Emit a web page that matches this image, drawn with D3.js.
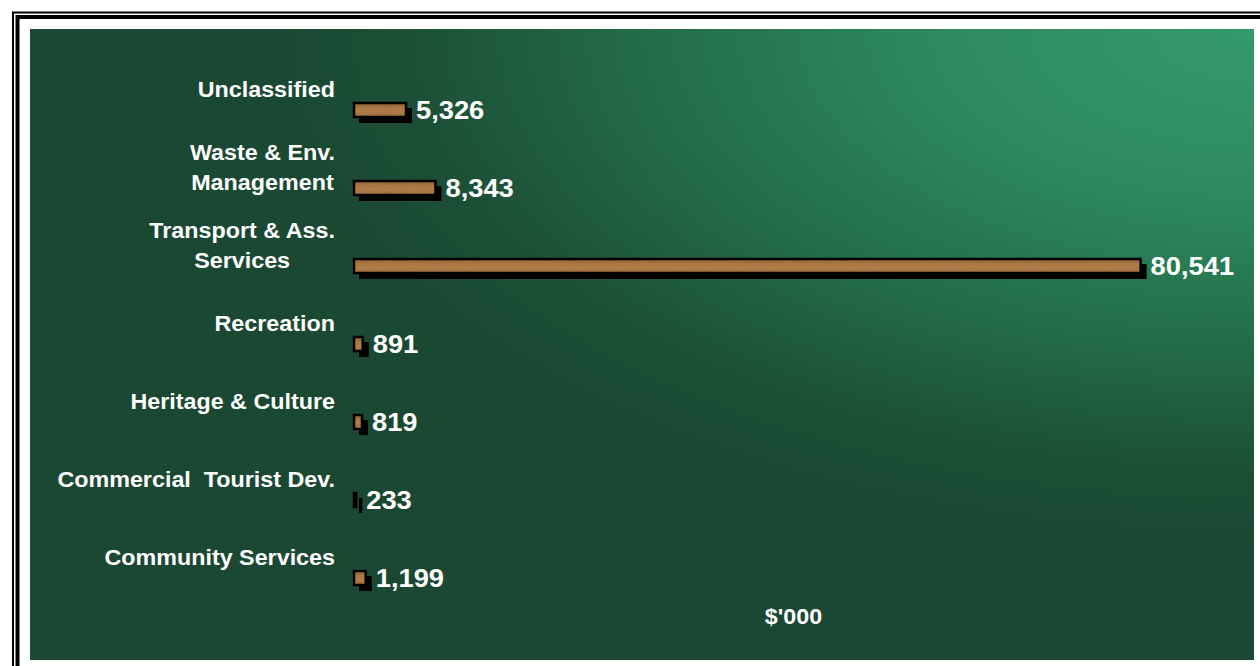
<!DOCTYPE html>
<html>
<head>
<meta charset="utf-8">
<script src="https://cdn.jsdelivr.net/npm/d3@7"></script>
<style>
  html, body { margin: 0; padding: 0; background: #ffffff; }
  svg { display: block; }
  text { font-family: "Liberation Sans", Arial, sans-serif; font-weight: bold; fill: #ffffff; }
</style>
</head>
<body>
<svg id="chart" width="1260" height="666"></svg>
<script>
// Capital spending by program, $'000
const categories = [
  ["Unclassified"],
  ["Waste & Env.", "Management"],
  ["Transport & Ass.", "Services"],
  ["Recreation"],
  ["Heritage & Culture"],
  ["Commercial  Tourist Dev."],
  ["Community Services"]
];
const values = [5326, 8343, 80541, 891, 819, 233, 1199];
const axisTitle = "$'000";

const svg = d3.select("#chart");
const defs = svg.append("defs");

// Green backdrop, brightest in the upper right corner
const bg = defs.append("radialGradient")
  .attr("id", "bgGrad")
  .attr("gradientUnits", "userSpaceOnUse")
  .attr("cx", 1254).attr("cy", 29).attr("r", 1000)
  .attr("gradientTransform", "translate(1254,29) scale(1,0.52) translate(-1254,-29)");
[[0, "#35996c"], [0.3, "#2e8b5f"], [0.6, "#236d4a"], [0.85, "#1c4f36"], [1, "#1a4832"]]
  .forEach(([o, c]) => bg.append("stop").attr("offset", o).attr("stop-color", c));

// Brown bar fill with a mottled grain
const barGrad = defs.append("linearGradient")
  .attr("id", "barGrad").attr("x1", 0).attr("y1", 0).attr("x2", 0).attr("y2", 1);
[[0, "#83522a"], [0.3, "#a86f3a"], [0.6, "#b27a43"], [1, "#9a6334"]]
  .forEach(([o, c]) => barGrad.append("stop").attr("offset", o).attr("stop-color", c));

const grain = defs.append("filter").attr("id", "grain")
  .attr("x", 0).attr("y", 0).attr("width", 1).attr("height", 1);
grain.append("feTurbulence").attr("type", "fractalNoise")
  .attr("baseFrequency", "0.12 0.5").attr("numOctaves", 2).attr("seed", 3).attr("result", "noise");
grain.append("feColorMatrix").attr("in", "noise").attr("type", "matrix")
  .attr("values", "0 0 0 0 0.40  0 0 0 0 0.24  0 0 0 0 0.10  0 0 0 0.5 0").attr("result", "tint");
grain.append("feComposite").attr("in", "tint").attr("in2", "SourceGraphic").attr("operator", "in").attr("result", "spots");
grain.append("feMerge").selectAll("feMergeNode").data(["SourceGraphic", "spots"]).enter()
  .append("feMergeNode").attr("in", d => d);

// Double frame, running past the right and bottom edges
svg.append("rect").attr("x", 13).attr("y", 12.5).attr("width", 1400).attr("height", 900)
  .attr("fill", "none").attr("stroke", "#000").attr("stroke-width", 2);
svg.append("rect").attr("x", 17.5).attr("y", 17).attr("width", 1400).attr("height", 900)
  .attr("fill", "none").attr("stroke", "#000").attr("stroke-width", 4);

// Plot area
svg.append("rect").attr("x", 30).attr("y", 29).attr("width", 1224).attr("height", 631)
  .attr("fill", "url(#bgGrad)");

const x = d3.scaleLinear().domain([0, 90000]).range([354, 1233]);
const y = d3.scaleBand().domain(d3.range(categories.length)).range([71, 617]);
const barH = 14;
const cy = i => y(i) + y.bandwidth() / 2;

// text drawn slightly widened, as the chart's type is set
function placeText(sel, px, py, sx) {
  sel.attr("transform", `translate(${px},${py}) scale(${sx},1)`);
}

const bars = svg.append("g").selectAll("g").data(values).enter().append("g");
const barW = d => Math.max(1, x(d) - x(0));

// drop shadow
bars.append("rect")
  .attr("x", x(0) + 5)
  .attr("y", (d, i) => cy(i) - barH / 2 + 5)
  .attr("width", d => barW(d) + 1)
  .attr("height", barH + 1)
  .attr("fill", "#000");

// bar body
bars.append("rect")
  .attr("x", x(0))
  .attr("y", (d, i) => cy(i) - barH / 2)
  .attr("width", barW)
  .attr("height", barH)
  .attr("fill", "url(#barGrad)")
  .attr("filter", "url(#grain)");

// bar outline
bars.append("rect")
  .attr("x", x(0))
  .attr("y", (d, i) => cy(i) - barH / 2)
  .attr("width", barW)
  .attr("height", barH)
  .attr("fill", "none")
  .attr("stroke", "#000")
  .attr("stroke-width", 2.5);

// value labels
bars.append("text")
  .attr("dy", "0.36em")
  .attr("font-size", 26)
  .text(d => d3.format(",")(d))
  .each(function (d, i) {
    placeText(d3.select(this), Math.max(x(d), x(0) + 2) + 10, cy(i), 1.05);
  });

// category labels, centred on a line above each bar
const lineH = 30;
const sx = 1.06;
const labels = svg.append("g").selectAll("g").data(categories).enter().append("g");
labels.each(function (lines, i) {
  const g = d3.select(this);
  const mid = cy(i) - 21;
  const top = mid - (lines.length - 1) * lineH / 2;
  const ts = lines.map(s => g.append("text")
    .attr("font-size", 22)
    .attr("dy", "0.35em")
    .style("white-space", "pre")
    .text(s));
  const widths = ts.map(t => t.node().getComputedTextLength() * sx);
  const maxW = d3.max(widths);
  const right = 335;
  ts.forEach((t, k) => {
    const ty = top + k * lineH;
    if (lines.length === 1) {
      t.attr("text-anchor", "end");
      placeText(t, right, ty, sx);
    } else {
      t.attr("text-anchor", "middle");
      placeText(t, right - maxW / 2, ty, sx);
    }
  });
});

// axis title
svg.append("text")
  .attr("dy", "0.35em")
  .attr("text-anchor", "middle")
  .attr("font-size", 22)
  .text(axisTitle)
  .call(placeText, (x.range()[0] + x.range()[1]) / 2, 616, 1.06);
</script>
</body>
</html>
